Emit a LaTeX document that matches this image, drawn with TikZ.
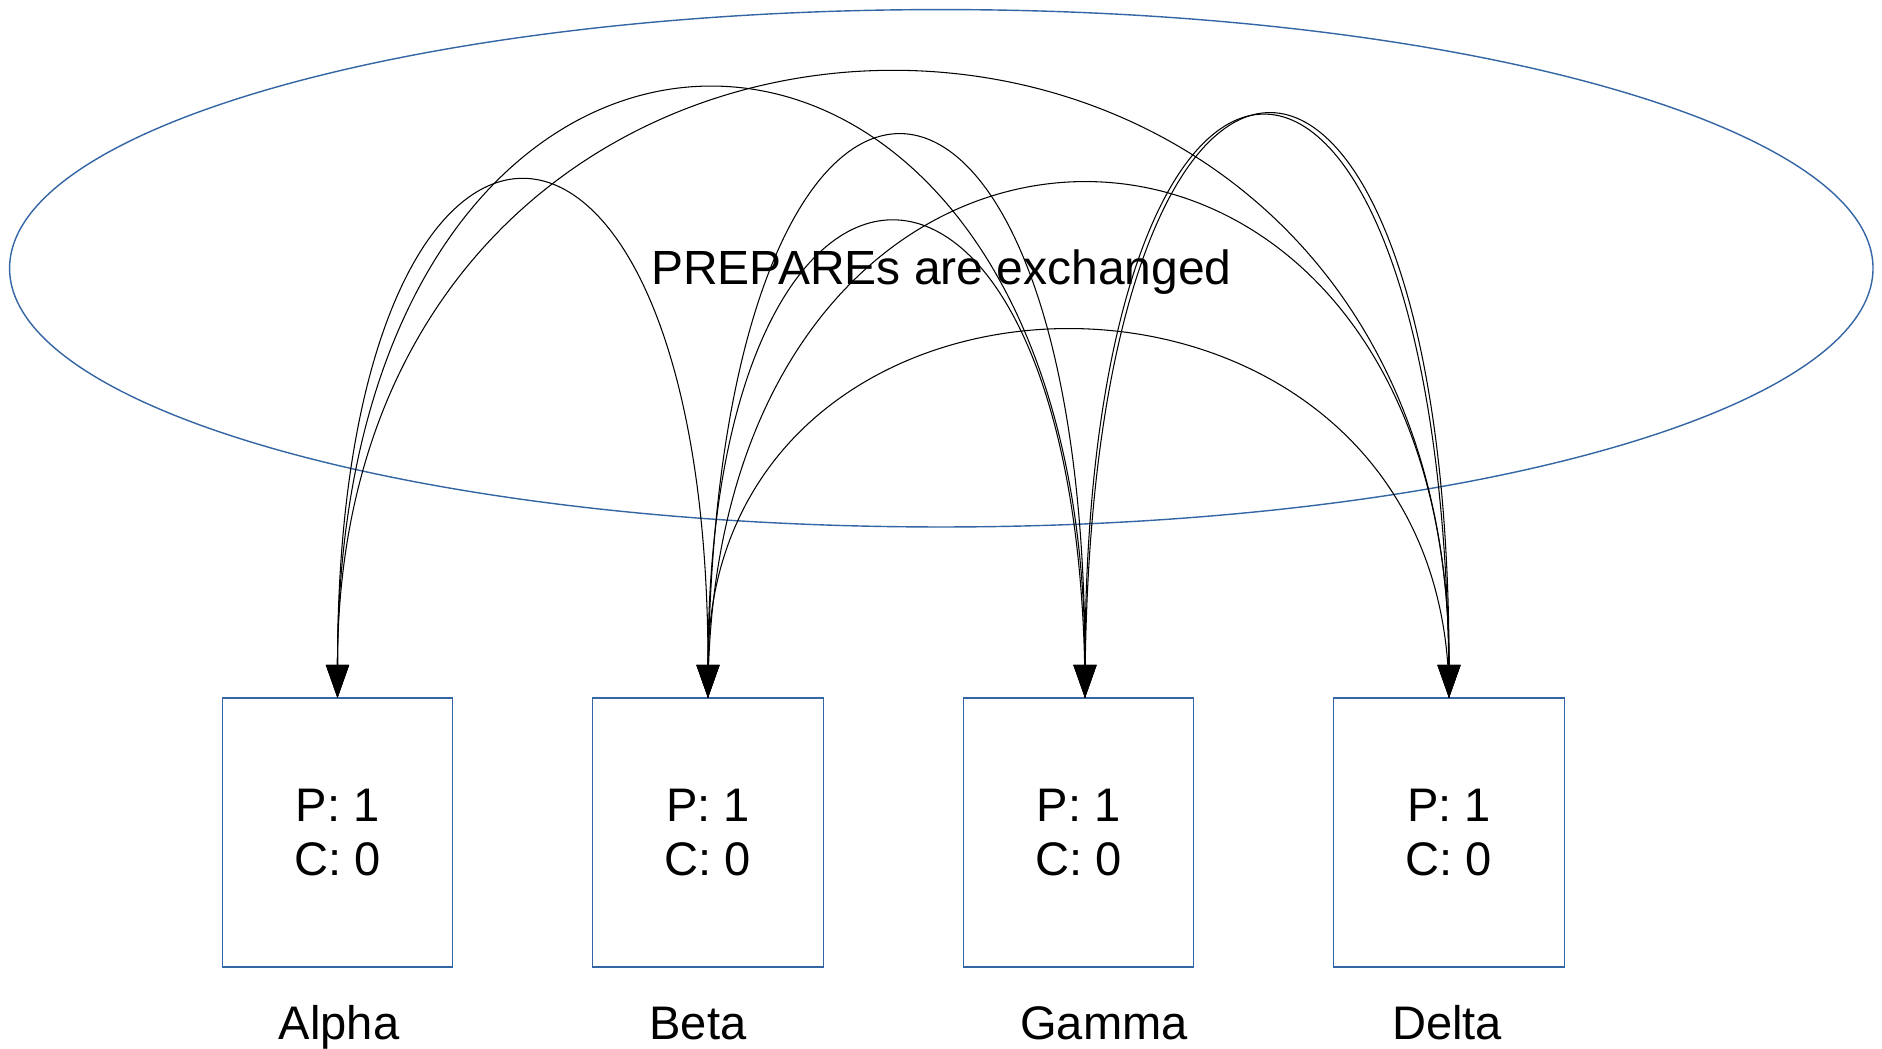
\documentclass[tikz,border=0pt]{standalone}
\usepackage{fontspec}
\setmainfont{Liberation Sans}
\usetikzlibrary{arrows.meta}
\definecolor{drawblue}{HTML}{3465A4}
\tikzset{
  replica/.style={draw=drawblue, line width=0.4pt, minimum width=2.305cm, minimum height=2.69cm, inner sep=0pt, outer sep=0pt, align=center},
  caption/.style={anchor=base, inner sep=0pt},
  prepare/.style={line width=0.3pt, ->},
  >={Triangle[length=0.33cm, width=0.23cm]}
}
\begin{document}
\begin{tikzpicture}[font=\fontsize{13.4}{15.4}\selectfont]
\useasboundingbox (0,0) rectangle (18.82,10.49);

% Ellipse round the exchange
\draw[drawblue, line width=0.4pt] (9.413,7.807) ellipse [x radius=9.317, y radius=2.587];
\node[caption, font=\fontsize{13.65}{15.4}\selectfont] (title) at (9.413,7.64) {PREPAREs are exchanged};

% Replicas and their names
\node[replica] (alpha) at (3.375,2.165) {P: 1\\C: 0};
\node[replica] (beta) at (7.08,2.165) {P: 1\\C: 0};
\node[replica] (gamma) at (10.785,2.165) {P: 1\\C: 0};
\node[replica] (delta) at (14.49,2.165) {P: 1\\C: 0};
\node[caption] (alphaname) at (3.39,0.09) {Alpha};
\node[caption] (betaname) at (6.98,0.09) {Beta};
\node[caption] (gammaname) at (11.04,0.09) {Gamma};
\node[caption] (deltaname) at (14.47,0.09) {Delta};

% PREPARE messages
\draw[prepare, <->] (alpha.north) .. controls +(0,6.82) and +(0,6.82) .. (beta.north);
\draw[prepare, <->] (alpha.north) .. controls +(0,8.05) and +(0,8.05) .. ([xshift=0.065cm]gamma.north);
\draw[prepare, <->] (alpha.north) .. controls +(0,8.26) and +(0,8.26) .. (delta.north);
\draw[prepare] (beta.north) .. controls +(0,7.47) and +(0,7.47) .. ([xshift=0.065cm]gamma.north);
\draw[prepare] ([xshift=0.065cm]gamma.north) .. controls +(0,6.32) and +(0,6.32) .. (beta.north);
\draw[prepare] (beta.north) .. controls +(0,6.83) and +(0,6.83) .. (delta.north);
\draw[prepare] (delta.north) .. controls +(0,4.87) and +(0,4.87) .. (beta.north);
\draw[prepare] ([xshift=0.065cm]gamma.north) .. controls +(0,7.75) and +(0,7.75) .. (delta.north);
\draw[prepare] (delta.north) .. controls +(0,7.73) and +(0,7.73) .. ([xshift=0.065cm]gamma.north);
\end{tikzpicture}
\end{document}
